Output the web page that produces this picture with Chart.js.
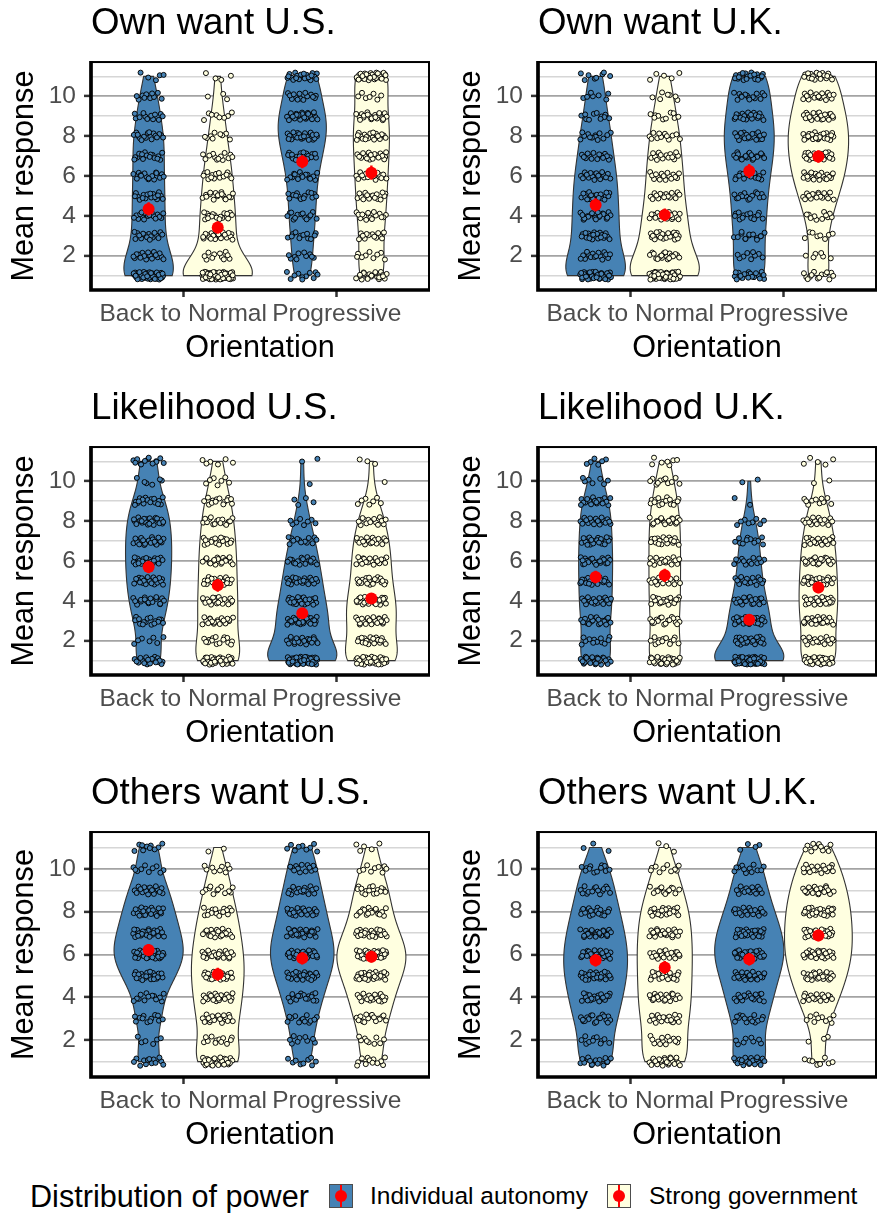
<!DOCTYPE html>
<html>
<head>
<meta charset="utf-8">
<title>Distribution of power</title>
<script src="https://cdn.jsdelivr.net/npm/chart.js@4.4.0/dist/chart.umd.min.js"></script>
<style>
  html, body { margin: 0; padding: 0; background: #fff; }
  #page { position: relative; width: 881px; height: 1213px; overflow: hidden; font-family: "Liberation Sans", Arial, sans-serif; color: #000; }
  #page canvas { position: absolute; }
  .legend-text { position: absolute; white-space: nowrap; }
  .key { position: absolute; top: 1184px; width: 24px; height: 24px; box-sizing: border-box; border: 1px solid #4d4d4d; }
  .key i { position: absolute; left: 9.8px; top: 0; width: 2.4px; height: 22px; background: #f00; }
  .key b { position: absolute; left: 5px; top: 5px; width: 12px; height: 12px; border-radius: 50%; background: #f00; }
</style>
</head>
<body>
<div id="page">
  <canvas id="panel0" width="434" height="370" style="left:0px;top:0px"></canvas>
  <canvas id="panel1" width="434" height="370" style="left:447px;top:0px"></canvas>
  <canvas id="panel2" width="434" height="370" style="left:0px;top:385px"></canvas>
  <canvas id="panel3" width="434" height="370" style="left:447px;top:385px"></canvas>
  <canvas id="panel4" width="434" height="387" style="left:0px;top:770px"></canvas>
  <canvas id="panel5" width="434" height="387" style="left:447px;top:770px"></canvas>
  <div class="legend-text" style="left:30px;top:1181px;font-size:30.6px;line-height:30px">Distribution of power</div>
  <div class="key" style="left:329px;background:#4682B4"><i></i><b></b></div>
  <div class="legend-text" style="left:370px;top:1184px;font-size:24.5px;line-height:24px">Individual autonomy</div>
  <div class="key" style="left:607px;background:#FFFFE0"><i></i><b></b></div>
  <div class="legend-text" style="left:649px;top:1184px;font-size:24.5px;line-height:24px">Strong government</div>
</div>
<script>
// ---- data ----
const orientations = ["Back to Normal", "Progressive"];
const powerGroups = ["Individual autonomy", "Strong government"];
const responseLevels = [1, 2, 3, 4, 5, 6, 7, 8, 9, 10, 11];
const yTickLabels = [2, 4, 6, 8, 10];
const panelTitles = ["Own want U.S.", "Own want U.K.", "Likelihood U.S.", "Likelihood U.K.", "Others want U.S.", "Others want U.K."];

// responses per level 1..11; rows: Back to Normal/Individual, Back to Normal/Strong, Progressive/Individual, Progressive/Strong
const ownWantUS = [
  [47, 17, 17, 17, 17, 16, 16, 17, 12, 10, 5],
  [71, 11, 21, 18, 17, 15, 13, 9, 8, 3, 4],
  [11, 10, 12, 14, 14, 16, 20, 26, 28, 15, 23],
  [22, 9, 13, 15, 16, 17, 18, 19, 21, 7, 33]
];
const ownWantUK = [
  [44, 16, 21, 19, 19, 18, 15, 13, 11, 7, 8],
  [52, 18, 22, 19, 16, 16, 14, 13, 10, 7, 5],
  [21, 9, 14, 14, 15, 17, 20, 22, 20, 15, 21],
  [14, 6, 8, 11, 17, 22, 25, 26, 24, 18, 19]
];
const likelihoodUS = [
  [20, 7, 16, 20, 22, 23, 23, 22, 18, 6, 13],
  [36, 15, 21, 20, 19, 19, 18, 16, 14, 7, 6],
  [52, 23, 28, 23, 20, 17, 13, 8, 4, 1, 2],
  [37, 20, 26, 25, 20, 20, 18, 14, 7, 1, 3]
];
const likelihoodUK = [
  [29, 12, 19, 20, 20, 21, 20, 19, 18, 7, 6],
  [31, 13, 18, 19, 19, 19, 19, 19, 16, 11, 7],
  [64, 24, 27, 21, 16, 14, 12, 8, 2, 2, 0],
  [30, 17, 23, 24, 23, 22, 20, 16, 10, 2, 5]
];
const othersWantUS = [
  [13, 6, 12, 13, 24, 33, 28, 23, 18, 10, 10],
  [30, 12, 20, 21, 24, 23, 20, 17, 12, 9, 2],
  [9, 9, 13, 18, 24, 31, 25, 21, 17, 13, 9],
  [12, 9, 16, 20, 27, 35, 24, 18, 16, 9, 5]
];
const othersWantUK = [
  [18, 11, 18, 21, 25, 26, 23, 19, 15, 12, 3],
  [25, 14, 20, 21, 21, 22, 21, 20, 14, 10, 3],
  [20, 8, 15, 19, 23, 30, 26, 20, 14, 12, 4],
  [8, 3, 10, 17, 23, 27, 27, 26, 23, 18, 11]
];

// group means (red points), same row order
const ownWantUSMeans = [4.35, 3.42, 6.72, 6.17];
const ownWantUKMeans = [4.55, 4.05, 6.25, 6.98];
const likelihoodUSMeans = [5.70, 4.78, 3.38, 4.12];
const likelihoodUKMeans = [5.20, 5.28, 3.05, 4.67];
const othersWantUSMeans = [6.21, 5.08, 5.82, 5.90];
const othersWantUKMeans = [5.73, 5.39, 5.78, 6.89];

const panelCounts = [ownWantUS, ownWantUK, likelihoodUS, likelihoodUK, othersWantUS, othersWantUK];
const panelMeans = [ownWantUSMeans, ownWantUKMeans, likelihoodUSMeans, likelihoodUKMeans, othersWantUSMeans, othersWantUKMeans];

// ---- styling ----
const groupFill = ["#4682B4", "#FFFFE0"];
const dodge = 0.225;          // half of the dodge width
const jitterW = 0.1, jitterH = 0.2;
const seMult = 1.5;

Chart.defaults.font.family = '"Liberation Sans", Arial, sans-serif';

// halton sequence, used for an even, repeatable jitter
function halton(i, b) {
  let f = 1, r = 0;
  while (i > 0) { f /= b; r += f * (i % b); i = Math.floor(i / b); }
  return r;
}

// kernel density like R density(bw = "nrd0"), trimmed to the data range
function violinDensity(counts) {
  const xs = [];
  counts.forEach((c, i) => { for (let j = 0; j < c; j++) xs.push(responseLevels[i]); });
  const n = xs.length;
  const mean = xs.reduce((a, b) => a + b, 0) / n;
  const sd = Math.sqrt(xs.reduce((a, b) => a + (b - mean) ** 2, 0) / (n - 1));
  const q = p => {
    const h = (n - 1) * p, lo = Math.floor(h);
    const nx = lo + 1 < n ? xs[lo + 1] : xs[lo];
    return xs[lo] + (h - lo) * (nx - xs[lo]);
  };
  let spread = Math.min(sd, (q(0.75) - q(0.25)) / 1.34);
  if (!(spread > 0)) spread = sd || 1;
  const bw = 0.9 * spread * Math.pow(n, -0.2);
  const lo = xs[0], hi = xs[n - 1];
  const ys = [], ds = [];
  for (let k = 0; k <= 200; k++) {
    const y = lo + (hi - lo) * k / 200;
    let d = 0;
    counts.forEach((c, i) => {
      const z = (y - responseLevels[i]) / bw;
      d += c * Math.exp(-0.5 * z * z);
    });
    ys.push(y);
    ds.push(d / (n * bw * Math.sqrt(2 * Math.PI)));
  }
  return { ys, ds, sd, n };
}

function violinPlugin(groups) {
  return {
    id: "violins",
    beforeDatasetsDraw(chart) {
      const { ctx, scales: { x, y } } = chart;
      const maxD = Math.max(...groups.map(g => Math.max(...g.ds)));
      ctx.save();
      groups.forEach(g => {
        ctx.beginPath();
        g.ys.forEach((yy, i) => {
          const px = x.getPixelForValue(g.center - dodge * g.ds[i] / maxD);
          const py = y.getPixelForValue(yy);
          if (i === 0) ctx.moveTo(px, py); else ctx.lineTo(px, py);
        });
        for (let i = g.ys.length - 1; i >= 0; i--) {
          ctx.lineTo(x.getPixelForValue(g.center + dodge * g.ds[i] / maxD), y.getPixelForValue(g.ys[i]));
        }
        ctx.closePath();
        ctx.fillStyle = g.fill;
        ctx.fill();
        ctx.lineWidth = 1.1;
        ctx.strokeStyle = "#333333";
        ctx.stroke();
      });
      ctx.restore();
    }
  };
}

const framePlugin = {
  id: "frame",
  afterDatasetsDraw(chart) {
    const { ctx, chartArea: { left, right, top, bottom } } = chart;
    ctx.save();
    ctx.strokeStyle = "#000";
    ctx.lineWidth = 2;
    ctx.strokeRect(left, top, right - left, bottom - top);
    ctx.lineWidth = 3.7;
    ctx.beginPath();
    ctx.moveTo(left, top - 1);
    ctx.lineTo(left, bottom + 1.85);
    ctx.moveTo(left - 1.85, bottom);
    ctx.lineTo(right + 1, bottom);
    ctx.stroke();
    ctx.restore();
  }
};

panelCounts.forEach((counts, p) => {
  const canvas = document.getElementById("panel" + p);
  const plotBottom = canvas.height - 80;

  const groups = counts.map((c, gi) => {
    const cat = Math.floor(gi / 2), pw = gi % 2;
    const dens = violinDensity(c);
    return { counts: c, center: cat + 1 + (pw === 0 ? -dodge : dodge), fill: groupFill[pw], ...dens };
  });

  const datasets = [];
  groups.forEach((g, gi) => {
    const pts = [];
    let k = 1 + p * 997 + gi * 251;
    g.counts.forEach((c, li) => {
      for (let j = 0; j < c; j++, k++) {
        const u = halton(k, 2), v = halton(k, 3);
        pts.push({ x: g.center + (2 * u - 1) * jitterW, y: responseLevels[li] + (2 * v - 1) * jitterH });
      }
    });
    datasets.push({
      label: orientations[Math.floor(gi / 2)] + " / " + powerGroups[gi % 2],
      data: pts, order: 3,
      pointRadius: 2.5, pointBackgroundColor: g.fill,
      pointBorderColor: "#000", pointBorderWidth: 0.95
    });
  });

  // mean with a short interval bar
  const ciData = [];
  groups.forEach((g, gi) => {
    const half = seMult * g.sd / Math.sqrt(g.n);
    const m = panelMeans[p][gi];
    ciData.push({ x: g.center, y: m - half }, { x: g.center, y: m + half }, { x: g.center, y: null });
  });
  datasets.push({
    label: "interval", data: ciData, order: 2, showLine: true, spanGaps: false,
    borderColor: "#FF0000", borderWidth: 2.4, pointRadius: 0
  });
  datasets.push({
    label: "mean", order: 1,
    data: groups.map((g, gi) => ({ x: g.center, y: panelMeans[p][gi] })),
    pointRadius: 6, pointBackgroundColor: "#FF0000", pointBorderWidth: 0
  });

  new Chart(canvas, {
    type: "scatter",
    data: { datasets },
    plugins: [violinPlugin(groups), framePlugin],
    options: {
      responsive: false,
      animation: false,
      devicePixelRatio: 1,
      events: [],
      layout: { padding: { top: 0, left: 0, right: 5, bottom: 0 }, autoPadding: false },
      plugins: {
        legend: { display: false },
        tooltip: { enabled: false },
        title: {
          display: true, text: panelTitles[p], align: "start", fullSize: false,
          color: "#000", font: { size: 36.7, weight: "normal" },
          padding: { top: 2, bottom: 16 }
        }
      },
      scales: {
        x: {
          type: "linear", min: 0.4, max: 2.6,
          afterBuildTicks: s => { s.ticks = orientations.map((_, i) => ({ value: i + 1 })); },
          afterFit: s => { s.height = canvas.height - plotBottom; },
          ticks: {
            autoSkip: false, maxRotation: 0, minRotation: 0, padding: 3,
            color: "#4D4D4D", font: { size: 24.5 },
            callback: v => orientations[v - 1]
          },
          grid: { drawOnChartArea: false, drawTicks: true, tickLength: 7, tickWidth: 2.5, tickColor: "#333333" },
          border: { display: false },
          title: { display: true, text: "Orientation", color: "#000", font: { size: 30.6 }, padding: { top: 0, bottom: 3.5 } }
        },
        y: {
          type: "linear", min: 0.28, max: 11.72,
          afterBuildTicks: s => { s.ticks = responseLevels.map(v => ({ value: v })); },
          afterFit: s => { s.width = 91; },
          ticks: {
            autoSkip: false, padding: 8, color: "#4D4D4D", font: { size: 24.5 },
            callback: v => yTickLabels.includes(v) ? String(v) : ""
          },
          grid: {
            color: c => yTickLabels.includes(c.tick.value) ? "#A3A3A3" : "#D6D6D6",
            lineWidth: c => yTickLabels.includes(c.tick.value) ? 1.8 : 1.5,
            tickColor: c => yTickLabels.includes(c.tick.value) ? "#333333" : "rgba(0,0,0,0)",
            tickLength: 7, tickWidth: 2.5
          },
          border: { display: false },
          title: { display: true, text: "Mean response", color: "#000", font: { size: 30.6 }, padding: { top: 6, bottom: 0 } }
        }
      }
    }
  });
});
</script>
</body>
</html>
